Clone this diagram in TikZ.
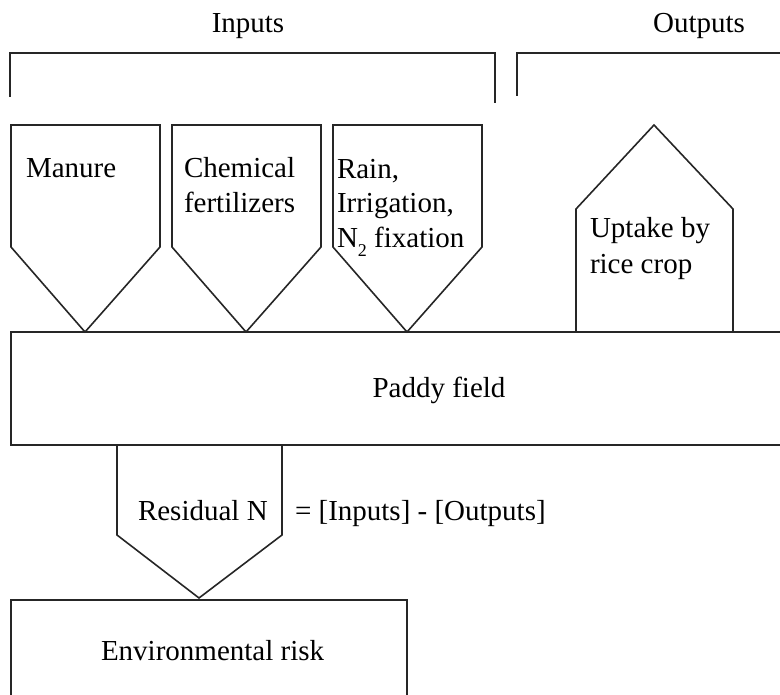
\documentclass[tikz,border=0pt]{standalone}
\usepackage{fontspec}
\setmainfont{Liberation Serif}
\begin{document}
\begin{tikzpicture}[x=1pt,y=-1pt,
  shp/.style={draw=black!85,line width=1.6pt,line join=miter},
  lbl/.style={inner sep=0pt,outer sep=0pt,font=\fontsize{29}{35}\selectfont},
  mlbl/.style={lbl,align=left,anchor=base west}]
\useasboundingbox (0,0) rectangle (780,695);
\clip (0,0) rectangle (780,695);
% brackets
\draw[shp] (10,97) -- (10,53) -- (495,53) -- (495,103);
\draw[shp] (517,96) -- (517,53) -- (785,53);
\node[lbl,anchor=base] (inputs) at (248,33) {Inputs};
\node[lbl,anchor=base] (outputs) at (699,33) {Outputs};
% input pentagons
\draw[shp] (11,125) -- (160,125) -- (160,247) -- (85,332) -- (11,247) -- cycle;
\draw[shp] (172,125) -- (321,125) -- (321,247) -- (246,332) -- (172,247) -- cycle;
\draw[shp] (333,125) -- (482,125) -- (482,247) -- (407,332) -- (333,247) -- cycle;
\node[mlbl] (manure) at (26,178) {Manure};
\node[mlbl] (chem) at (184,213) {Chemical\\fertilizers};
\node[mlbl] (rain) at (337,248) {Rain,\\Irrigation,\\N\raisebox{-0.28em}{\fontsize{18}{18}\selectfont 2} fixation};
% output pentagon
\draw[shp] (576,332) -- (576,209) -- (654,125) -- (733,209) -- (733,332);
\node[mlbl] (uptake) at (590,274) {Uptake by\\[1pt]rice crop};
% paddy field
\draw[shp] (785,332) -- (11,332) -- (11,445) -- (785,445);
\node[lbl,anchor=base] (paddy) at (439,398) {Paddy field};
% residual
\draw[shp] (117,445) -- (117,535) -- (199,598) -- (282,535) -- (282,445);
\node[lbl,anchor=base west] (resid) at (138,520) {Residual N};
\node[lbl,anchor=base west] (eq) at (295,520) {= [Inputs] - [Outputs]};
% environmental risk
\draw[shp] (11,700) -- (11,600) -- (407,600) -- (407,700);
\node[lbl,anchor=base west] (env) at (101,660) {Environmental risk};
\end{tikzpicture}
\end{document}
